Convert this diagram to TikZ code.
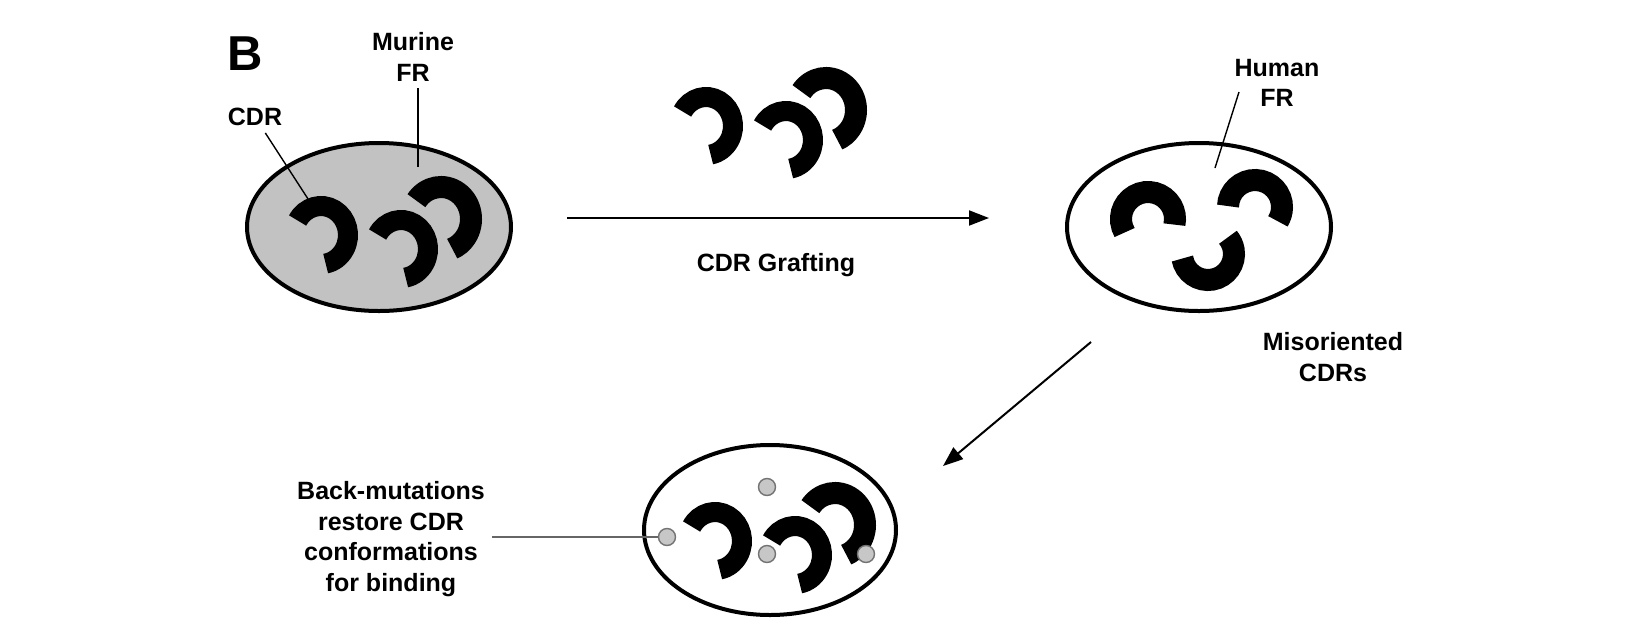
\documentclass[tikz,border=0pt]{standalone}
\usepackage{fontspec}
\setmainfont{Liberation Sans}
\usetikzlibrary{arrows.meta,shapes.geometric}

\begin{document}
\begin{tikzpicture}[x=0.5pt,y=0.5pt,
		lbl/.style={font=\bfseries\fontsize{12.5}{15.25}\selectfont,align=center},
		frame/.style={ellipse,draw,line width=2pt,inner sep=0pt},
		cdr/.style={line width=10pt},
		cdrbig/.style={line width=11pt},
		lead/.style={line width=0.7pt},
		flow/.style={line width=1pt,-{Triangle[length=10pt,width=7.5pt]}},
		mut/.style={circle,draw=black!55,fill=black!22,line width=0.7pt,minimum size=8.5pt,inner sep=0pt}]
	\useasboundingbox (0,0) rectangle (1646,-638);
	
	\node[font=\bfseries\fontsize{24.5}{28}\selectfont] (B) at (245,-54) {B};
	
	\node[frame,fill=black!24,minimum width=132pt,minimum height=84pt] (L) at (379,-227) {};
	\node[frame,fill=white,minimum width=132pt,minimum height=84pt] (R) at (1199,-227) {};
	\node[frame,fill=white,minimum width=126pt,minimum height=85pt] (Bt) at (770,-530) {};
	
	\draw[cdr] (321,-235) ++(150:27 and 29) arc[start angle=150,end angle=-80,x radius=27,y radius=29];
	\draw[cdr] (401,-249) ++(150:27 and 29) arc[start angle=150,end angle=-80,x radius=27,y radius=29];
	\draw[cdrbig] (441,-219) ++(145:30 and 32) arc[start angle=145,end angle=-68,x radius=30,y radius=32];
	
	\draw[cdr] (706,-126) ++(150:27 and 29) arc[start angle=150,end angle=-80,x radius=27,y radius=29];
	\draw[cdr] (786,-140) ++(150:27 and 29) arc[start angle=150,end angle=-80,x radius=27,y radius=29];
	\draw[cdrbig] (826,-110) ++(145:30 and 32) arc[start angle=145,end angle=-68,x radius=30,y radius=32];
	
	\draw[cdr] (715,-541) ++(150:27 and 29) arc[start angle=150,end angle=-80,x radius=27,y radius=29];
	\draw[cdr] (795,-555) ++(150:27 and 29) arc[start angle=150,end angle=-80,x radius=27,y radius=29];
	\draw[cdrbig] (835,-525) ++(145:30 and 32) arc[start angle=145,end angle=-68,x radius=30,y radius=32];
	
	\draw[cdrbig] (1148,-219) ++(210:27) arc[start angle=210,end angle=-12,radius=27];
	\draw[cdrbig] (1255,-207) ++(178:27) arc[start angle=178,end angle=-32,radius=27];
	\draw[cdrbig] (1208,-254) ++(190:26) arc[start angle=190,end angle=400,radius=26];
	
	\node[mut] (m1) at (667,-537) {};
	\node[mut] (m2) at (767,-487) {};
	\node[mut] (m3) at (767,-554) {};
	\node[mut] (m4) at (866,-554) {};
	
	\node[lbl] (murine) at (413,-57) {Murine\\FR};
	\node[lbl] (cdrlab) at (255,-117) {CDR};
	\node[lbl] (graft) at (776,-265) {CDR Grafting};
	\node[lbl] (human) at (1277,-83) {Human\\FR};
	\node[lbl] (misor) at (1333,-357) {Misoriented\\CDRs};
	\node[lbl] (back) at (391,-539) {Back-mutations\\restore CDR\\conformations\\for binding};
	
	\coordinate (cdrend) at (310,-202);
	\coordinate (murend) at (418,-167);
	\coordinate (humtop) at (1239,-92);
	\coordinate (humend) at (1215,-168);
	\draw[lead] (cdrlab) -- (cdrend);
	\draw[lead] (murine.south -| murend) -- (murend);
	\draw[lead] (humtop) -- (humend);
	\draw[lead,draw=black!60,line width=1pt] (back.east |- m1) -- (m1);
	
	\coordinate (g0) at (567,-218);
	\coordinate (g1) at (989,-218);
	\coordinate (d0) at (1091,-342);
	\coordinate (d1) at (943,-466);
	\draw[flow] (g0) -- (g1);
	\draw[flow] (d0) -- (d1);
\end{tikzpicture}
\end{document}
